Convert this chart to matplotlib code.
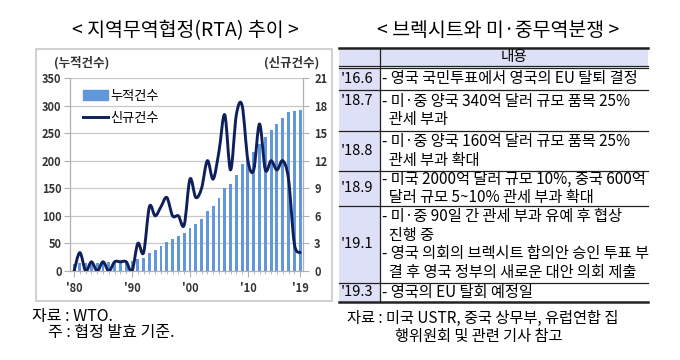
import matplotlib
matplotlib.use("Agg")
import matplotlib.pyplot as plt
from matplotlib.path import Path
from matplotlib.patches import PathPatch, Rectangle, Patch
from matplotlib.lines import Line2D

plt.rcParams["font.family"] = ["Noto Sans CJK KR", "DejaVu Sans"]

# ---- data ----
years = list(range(1980, 2020))
cumulative = [12, 14, 14, 15, 15, 16, 16, 17, 18, 19,
              19, 21, 24, 32, 38, 45, 52, 58, 64, 69,
              78, 86, 95, 108, 118, 132, 150, 158, 175, 194,
              204, 216, 230, 243, 255, 267, 278, 288, 291, 292]
new_count = [0, 2, 0, 1, 0, 1, 0, 1, 1, 1,
             0, 3, 2, 7, 6, 7, 8, 6, 6, 5,
             10, 8, 9, 12, 10, 13, 17, 11, 17, 18,
             12, 11, 16, 11, 12, 11, 12, 10, 3, 2]
xtick_years = [1980, 1990, 2000, 2010, 2019]
xtick_labels = ["'80", "'90", "'00", "'10", "'19"]

dates = ["'16.6", "'18.7", "'18.8", "'18.9", "'19.1", "'19.3"]
contents = [
    ["- 영국 국민투표에서 영국의 EU 탈퇴 결정"],
    ["- 미·중 양국 340억 달러 규모 품목 25%", "  관세 부과"],
    ["- 미·중 양국 160억 달러 규모 품목 25%", "  관세 부과 확대"],
    ["- 미국 2000억 달러 규모 10%, 중국 600억", "  달러 규모 5~10% 관세 부과 확대"],
    ["- 미·중 90일 간 관세 부과 유예 후 협상", "  진행 중",
     "- 영국 의회의 브렉시트 합의안 승인 투표 부", "  결 후 영국 정부의 새로운 대안 의회 제출"],
    ["- 영국의 EU 탈회 예정일"],
]

W, H = 680, 360
fig = plt.figure(figsize=(6.8, 3.6), dpi=100)

# overlay axes in pixel coordinates for boxes, table, text
ov = fig.add_axes([0, 0, 1, 1])
ov.set_xlim(0, W)
ov.set_ylim(H, 0)
ov.axis("off")

# ---- left panel ----
ov.text(185, 31, "< 지역무역협정(RTA) 추이 >", ha="center", va="center", fontsize=14)
ov.add_patch(Rectangle((36, 49), 296, 252, fill=False, edgecolor="#c8c8c8", lw=1.2))

ax = fig.add_axes([70 / W, 1 - 271 / H, (303 - 70) / W, (271 - 78) / H])
ax.set_zorder(2)
bar_color = "#6397dc"
ax.bar(years, cumulative, width=0.5, color=bar_color, zorder=2)
ax.set_ylim(0, 350)
ax.set_yticks(range(0, 351, 50))
ax.set_xlim(1979.3, 2019.5)
ax.set_xticks(xtick_years)
ax.set_xticklabels(xtick_labels)
ax.set_xticks(years, minor=True)
ax.grid(axis="y", color="#c8c8c8", lw=0.9, zorder=0)
ax.spines["top"].set_visible(False)
for s in ("left", "right", "bottom"):
    ax.spines[s].set_color("#b0b0b0")
ax.tick_params(axis="y", length=4, color="#b0b0b0", labelsize=8, pad=2)
ax.tick_params(axis="x", which="major", length=4, color="#b0b0b0", labelsize=8, pad=4)
ax.tick_params(axis="x", which="minor", length=2.5, color="#b0b0b0")
for lab in ax.get_yticklabels() + ax.get_xticklabels():
    lab.set_fontweight("bold")
    lab.set_color("#333333")

ax2 = ax.twinx()
ax2.set_ylim(0, 21)
ax2.set_yticks(range(0, 22, 3))
ax2.spines["top"].set_visible(False)
for s in ("left", "right", "bottom"):
    ax2.spines[s].set_color("#b0b0b0")
ax2.tick_params(axis="y", length=4, color="#b0b0b0", labelsize=8, pad=4)
for lab in ax2.get_yticklabels():
    lab.set_fontweight("bold")
    lab.set_color("#333333")

# smooth line (Catmull-Rom drawn as cubic Bezier segments)
line_color = "#0f1f5a"
pts = list(zip(years, new_count))
verts = [pts[0]]
codes = [Path.MOVETO]
for i in range(len(pts) - 1):
    p0 = pts[i - 1] if i > 0 else pts[i]
    p1 = pts[i]
    p2 = pts[i + 1]
    p3 = pts[i + 2] if i + 2 < len(pts) else pts[i + 1]
    c1 = (p1[0] + (p2[0] - p0[0]) / 6, p1[1] + (p2[1] - p0[1]) / 6)
    c2 = (p2[0] - (p3[0] - p1[0]) / 6, p2[1] - (p3[1] - p1[1]) / 6)
    verts += [c1, c2, p2]
    codes += [Path.CURVE4] * 3
ax2.add_patch(PathPatch(Path(verts, codes), fill=False, edgecolor=line_color,
                        lw=2.1, capstyle="round", joinstyle="round", zorder=3))

ax.legend(handles=[Patch(color=bar_color, label="누적건수"),
                   Line2D([0], [0], color=line_color, lw=2.1, label="신규건수")],
          loc="upper left", bbox_to_anchor=(0.02, 0.98), frameon=False,
          fontsize=9.5, handlelength=1.9, handleheight=0.8, labelspacing=0.7,
          handletextpad=0.2, borderaxespad=0.2)

ov.text(82, 63, "(누적건수)", ha="center", va="center", fontsize=9, fontweight="bold", color="#333333")
ov.text(292, 63, "(신규건수)", ha="center", va="center", fontsize=9, fontweight="bold", color="#333333")

ov.text(32, 316, "자료 : WTO.", ha="left", va="center", fontsize=11.5)
ov.text(48, 333, "주 : 협정 발효 기준.", ha="left", va="center", fontsize=11.5)

# ---- right panel ----
ov.text(498, 30, "< 브렉시트와 미·중무역분쟁 >", ha="center", va="center", fontsize=14)

tx0, tx1, tcol = 339, 648, 380
top, head_bot = 48, 66
row_bounds = [68, 90, 131, 171, 206, 283, 302]
lavender = "#dde0f6"
ov.add_patch(Rectangle((tx0, top), tx1 - tx0, head_bot - top, color=lavender, lw=0))
ov.add_patch(Rectangle((tx0, row_bounds[0]), tcol - tx0, row_bounds[-1] - row_bounds[0],
                       color=lavender, lw=0))
ov.plot([tx0, tx1], [top, top], color="#222222", lw=1.8)
ov.plot([tx0, tx1], [head_bot, head_bot], color="#222222", lw=0.9)
ov.plot([tx0, tx1], [row_bounds[0], row_bounds[0]], color="#222222", lw=0.9)
for yb in row_bounds[1:-1]:
    ov.plot([tx0, tx1], [yb, yb], color="#222222", lw=0.9)
ov.plot([tx0, tx1], [row_bounds[-1], row_bounds[-1]], color="#222222", lw=1.8)
ov.plot([tcol, tcol], [top, row_bounds[-1]], color="#222222", lw=0.9)

ov.text((tcol + tx1) / 2, 57, "내용", ha="center", va="center", fontsize=10.5)

line_h = 18.5
date_top = {"'18.7"}
for i, (d, lines) in enumerate(zip(dates, contents)):
    y0, y1 = row_bounds[i], row_bounds[i + 1]
    mid = (y0 + y1) / 2
    n = len(lines)
    first = mid - (n - 1) * line_h / 2
    for k, ln in enumerate(lines):
        ov.text(382, first + k * line_h, ln, ha="left", va="center", fontsize=11)
    dy = first if d in date_top else mid
    ov.text(341, dy, d, ha="left", va="center", fontsize=10.5)

ov.text(347, 318, "자료 : 미국 USTR, 중국 상무부, 유럽연합 집", ha="left", va="center", fontsize=11)
ov.text(395, 336, "행위원회 및 관련 기사 참고", ha="left", va="center", fontsize=11)

fig.savefig("out.png", dpi=100)
